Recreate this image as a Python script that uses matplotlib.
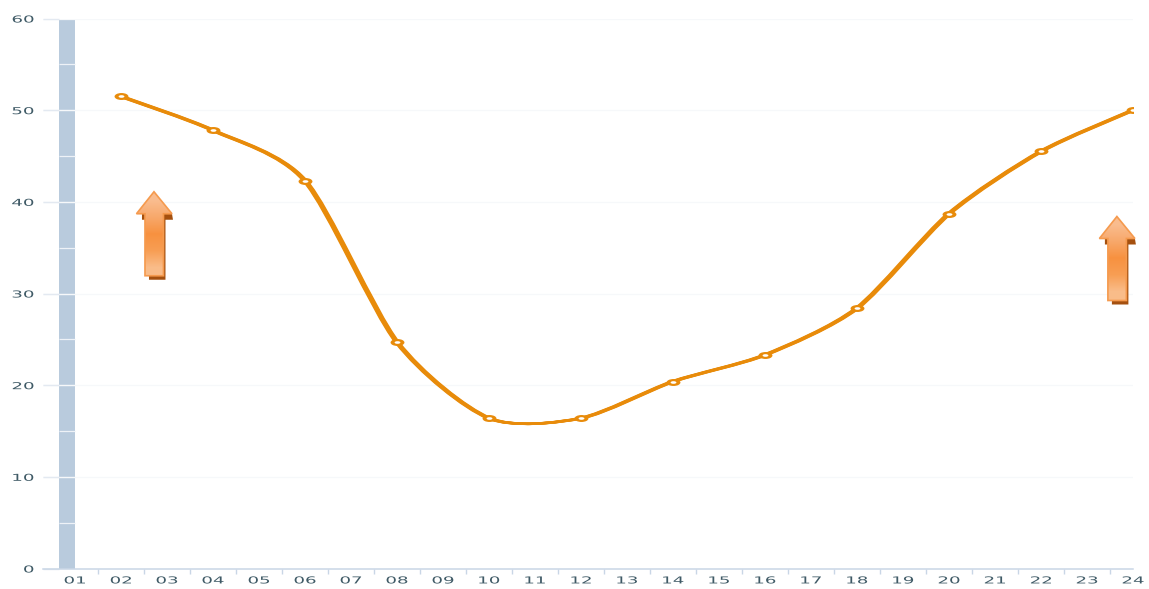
import matplotlib
matplotlib.use("Agg")
import matplotlib.pyplot as plt
import matplotlib.patheffects as pe
import numpy as np
from matplotlib.markers import MarkerStyle
from matplotlib.patches import PathPatch, Polygon
from matplotlib.path import Path
from matplotlib.transforms import Affine2D

hours = ["%02d" % h for h in range(1, 25)]
line_hours = [2, 4, 6, 8, 10, 12, 14, 16, 18, 20, 22, 24]
line_values = [51.5, 47.8, 42.3, 24.7, 16.4, 16.4, 20.4, 23.3, 28.4, 38.7, 45.5, 50.0]
bar_hour = 1
bar_value = 60
y_ticks = [0, 10, 20, 30, 40, 50, 60]
bar_splits = [5, 10, 15, 20, 25, 30, 35, 40, 45, 50, 55]
arrow_tips = [(2.717, 41.1), (23.65, 38.4)]

W, H = 1149, 589
LEFT, RIGHT, TOP, BOTTOM = 43, 1133, 18.5, 568.5
PX_X = 1 / 46.0
PX_Y = 60 / 550.0


class Stretch(pe.AbstractPathEffect):
    # the labels in the picture are wider than any installed font
    def __init__(self, sx, anchor):
        super().__init__()
        self.sx = sx
        self.anchor = anchor

    def draw_path(self, renderer, gc, tpath, affine, rgbFace=None):
        ext = tpath.get_extents()
        x0 = ext.x1 if self.anchor == "right" else (ext.x0 + ext.x1) / 2
        t = Affine2D().translate(-x0, 0).scale(self.sx, 1).translate(x0, 0)
        renderer.draw_path(gc, tpath, t + affine, rgbFace)


def smooth_path(xs, ys, k=0.13):
    verts = [(xs[0], ys[0])]
    codes = [Path.MOVETO]
    n = len(xs)
    for i in range(n - 1):
        a = max(i - 1, 0)
        b = min(i + 2, n - 1)
        verts.append((xs[i] + (xs[i + 1] - xs[a]) * k, ys[i] + (ys[i + 1] - ys[a]) * k))
        verts.append((xs[i + 1] - (xs[b] - xs[i]) * k, ys[i + 1] - (ys[b] - ys[i]) * k))
        verts.append((xs[i + 1], ys[i + 1]))
        codes += [Path.CURVE4] * 3
    return Path(verts, codes)


def draw_arrow(ax, tip_x, tip_y):
    # offsets in pixels from the tip, y going down
    def to_data(pts):
        return [(tip_x + px * PX_X, tip_y - py * PX_Y) for px, py in pts]

    shadow = [(-12, 22), (18, 22), (19, 28), (11.5, 28), (11.5, 88), (-5, 88), (-5, 28), (-12, 28)]
    ax.add_patch(Polygon(to_data(shadow), closed=True, fc="#a5500f", ec="none", zorder=4, clip_on=False))
    outline = [(0, 0), (18, 22), (9.5, 22), (9.5, 84), (-9, 84), (-9, 22), (-17.5, 22)]
    arrow = Polygon(to_data(outline), closed=True, fc="none", ec="#f59a4e", lw=1.2, zorder=6, clip_on=False)
    ax.add_patch(arrow)
    grad = np.array([[[0.98, 0.74, 0.56]], [[0.97, 0.66, 0.42]], [[0.97, 0.57, 0.25]],
                     [[0.97, 0.62, 0.33]], [[0.98, 0.74, 0.54]]])
    im = ax.imshow(grad, aspect="auto", interpolation="bilinear", zorder=5,
                   extent=(tip_x - 18 * PX_X, tip_x + 18 * PX_X, tip_y - 84 * PX_Y, tip_y))
    # head of the right arrow sticks out past the axes
    im.set_clip_box(ax.figure.bbox)
    im.set_clip_path(arrow)


fig = plt.figure(figsize=(W / 100, H / 100), dpi=100)
ax = fig.add_axes([LEFT / W, 1 - BOTTOM / H, (RIGHT - LEFT) / W, (BOTTOM - TOP) / H])

ax.bar([bar_hour], [bar_value], width=16 * PX_X, align="edge", color="#b9cbdd", zorder=1.2)
ax.patches[0].set_x(bar_hour - 16 * PX_X)
ax.hlines(bar_splits, bar_hour - 16 * PX_X, bar_hour, color="#eef2f7", lw=0.9, zorder=1.3)

# wide pen: the line gets thicker where it runs steeply, as in the picture
for dx in [-1.6, -0.8, 0, 0.8, 1.6]:
    ax.add_patch(PathPatch(smooth_path(line_hours, line_values), fc="none", ec="#e88b0a", lw=1.8,
                           capstyle="round",
                           transform=ax.transData + Affine2D().translate(dx, 0), zorder=3))
outer = MarkerStyle("o", transform=Affine2D().scale(2.0, 1))
inner = MarkerStyle("o", transform=Affine2D().scale(2.2, 1))
ax.plot(line_hours, line_values, ls="none", marker=outer, ms=5, mfc="#e88b0a", mew=0, zorder=3.5)
ax.plot(line_hours, line_values, ls="none", marker=inner, ms=1.9, mfc="white", mew=0, zorder=3.6)

for tip_x, tip_y in arrow_tips:
    draw_arrow(ax, tip_x, tip_y)

ax.set_xlim(1 - 32 * PX_X, 24)
ax.set_ylim(0, 60)

for s in ["top", "right", "left"]:
    ax.spines[s].set_visible(False)
ax.spines["bottom"].set_color("#c9d6e6")
ax.spines["bottom"].set_linewidth(1.1)

ax.set_yticks(y_ticks)
ax.set_yticklabels([str(v) for v in y_ticks])
ax.set_xticks(range(1, 25))
ax.set_xticklabels(hours)
ax.set_xticks(np.arange(1.5, 24, 1), minor=True)
ax.grid(axis="y", color="#f6f8fa", lw=0.9)
ax.tick_params(axis="y", direction="in", length=11.5, width=1.0, color="#e3e9f1", pad=6.5)
ax.tick_params(axis="x", which="major", length=0, pad=5)
ax.tick_params(axis="x", which="minor", length=3.5, width=1.0, color="#c9d6e6")

for lab in ax.get_xticklabels():
    lab.set_fontsize(6.9)
    lab.set_color("#3f5a66")
    lab.set_path_effects([Stretch(1.9, "center")])
for lab in ax.get_yticklabels():
    lab.set_fontsize(6.9)
    lab.set_color("#3f5a66")
    lab.set_path_effects([Stretch(1.9, "right")])

fig.savefig("out.png", dpi=100)
